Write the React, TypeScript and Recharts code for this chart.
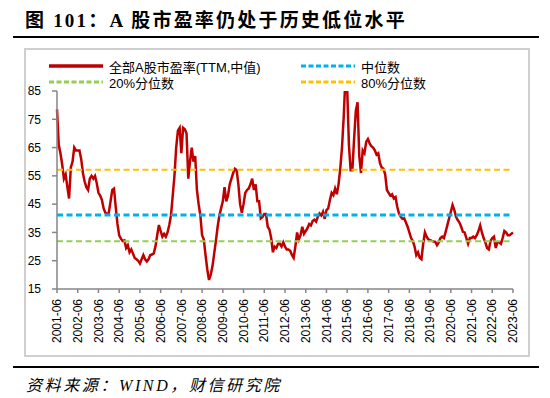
import React from 'react';
import { LineChart, Line, XAxis, YAxis } from 'recharts';

// 全部A股市盈率(TTM,中值)，月度，2001-06 起
const startYear = 2001;
const startMonthIndex = 5; // June
const peRatio: number[] = [
  78.5, 66, 63, 59, 54, 55.5, 51, 47, 58, 60, 65, 64,
  64, 64, 61, 56, 53, 51, 50, 54, 55, 54, 55, 52.5,
  49, 48, 46.5, 43.5, 42, 41.5, 42, 46, 50, 50.5, 44, 38,
  34, 32.8, 32, 32.2, 29.5, 30.5, 28, 29, 27.5, 26, 25.5, 25,
  24, 25.5, 27, 25.5, 24.7, 25.5, 27, 27.2, 27.6, 30, 34, 37.6,
  35.5, 33.5, 34.5, 33.5, 35, 37.6, 41, 48, 55, 65, 71, 72,
  63, 72, 71.5, 70, 54, 60, 65, 60, 62, 50, 45, 41,
  34, 32.5, 27, 22, 18.2, 20, 23, 27.5, 32, 37, 41, 43.5,
  46, 51, 46, 48, 52, 54, 56, 57.5, 57, 52, 45, 42,
  45, 49, 50, 50.5, 52, 54, 50, 52, 46, 46, 40, 40.5,
  41.5, 41.5, 37, 36, 33, 28, 30, 29.5, 31, 31, 30, 31.5,
  30, 29, 29, 28.5, 27, 26, 30, 35, 32.5, 34, 37, 34.5,
  35.5, 36.5, 38, 37.5, 39, 39.5, 38.8, 40.5, 41.7, 41, 42.3, 39.8,
  42.9, 43.5, 46.5, 49, 48.2, 50.5, 48.5, 52, 57.6, 65, 76, 90,
  86, 66, 57, 57, 68, 78, 81, 62, 56, 64, 63, 67,
  68, 66.5, 65.5, 65, 64, 62.5, 63, 59.5, 58, 57.5, 55.5, 50,
  49, 48, 48.5, 47, 47.5, 44, 41.7, 40.5, 39.8, 40, 38.5, 37,
  35, 33, 32, 30, 27, 28, 26, 25.5, 31, 35, 33.5, 32.5,
  32.3, 32, 31.8, 31.7, 30.5, 31.5, 33, 33.5, 33, 35.2, 37.6, 40,
  42.3, 44.7, 43, 40.5, 39.4, 38.5, 37, 35.2, 35, 33, 31, 33,
  33, 33.5, 33, 34, 35.5, 37.5, 35, 33, 31.5, 29.5, 29, 32,
  33, 33.5, 29.5, 31.5, 31.5, 31, 33, 35.5, 35, 34, 34, 34.5, 35,
];

const medianLevel = 41.2;
const pct20Level = 31.9;
const pct80Level = 57.2;

const xTicks = [
  '2001-06', '2002-06', '2003-06', '2004-06', '2005-06', '2006-06', '2007-06', '2008-06',
  '2009-06', '2010-06', '2011-06', '2012-06', '2013-06', '2014-06', '2015-06', '2016-06',
  '2017-06', '2018-06', '2019-06', '2020-06', '2021-06', '2022-06', '2023-06',
];
const yTicks = [15, 25, 35, 45, 55, 65, 75, 85];

const series = [
  { key: 'pe', name: '全部A股市盈率(TTM,中值)', color: '#C00000', width: 2.5, dash: undefined },
  { key: 'median', name: '中位数', color: '#00B0F0', width: 3, dash: '6 3.5' },
  { key: 'p20', name: '20%分位数', color: '#92D050', width: 2, dash: '6 3.5' },
  { key: 'p80', name: '80%分位数', color: '#FFC000', width: 2, dash: '6 3.5' },
];

function monthLabel(i: number) {
  const t = startMonthIndex + i;
  const y = startYear + Math.floor(t / 12);
  const m = (t % 12) + 1;
  return `${y}-${String(m).padStart(2, '0')}`;
}

const data = peRatio.map((v, i) => ({
  month: monthLabel(i),
  pe: v,
  median: medianLevel,
  p20: pct20Level,
  p80: pct80Level,
}));

const tickFont = '"Liberation Sans", Arial, sans-serif';

function MonthTick({ x, y, payload }: any) {
  return (
    <text
      x={x}
      y={y}
      transform={`rotate(-90, ${x}, ${y})`}
      textAnchor="end"
      dy="0.35em"
      fontSize={12}
      fontFamily={tickFont}
      fill="#000"
    >
      {payload.value}
    </text>
  );
}

function LegendSample({ color, dash }: { color: string; dash?: string }) {
  return (
    <svg width={54} height={8} style={{ display: 'block' }}>
      <line x1={0} y1={4} x2={54} y2={4} stroke={color} strokeWidth={dash ? 3 : 3.5} strokeDasharray={dash ? '5 2.5' : undefined} />
    </svg>
  );
}

function LegendItem({ s, left, top }: { s: (typeof series)[number]; left: number; top: number }) {
  return (
    <div style={{ position: 'absolute', left, top, display: 'flex', alignItems: 'center', height: 16 }}>
      <LegendSample color={s.color} dash={s.dash} />
      <span style={{ marginLeft: 6, fontSize: 13, fontFamily: '"Liberation Sans", "Noto Sans CJK SC", sans-serif', color: '#000', whiteSpace: 'nowrap' }}>
        {s.name}
      </span>
    </div>
  );
}

export default function App() {
  return (
    <div style={{ position: 'absolute', left: 0, top: 0, width: 550, height: 398, background: '#fff', overflow: 'hidden' }}>
      <div
        style={{
          position: 'absolute',
          left: 25,
          top: 8,
          fontSize: 19,
          fontWeight: 'bold',
          letterSpacing: 2.2,
          lineHeight: '26px',
          fontFamily: '"Liberation Serif", "Noto Sans CJK SC", serif',
          whiteSpace: 'nowrap',
        }}
      >
        图 101：A 股市盈率仍处于历史低位水平
      </div>
      <div style={{ position: 'absolute', left: 13, top: 36, width: 526, height: 2, background: '#000' }} />

      <LegendItem s={series[0]} left={49} top={58} />
      <LegendItem s={series[1]} left={301} top={58} />
      <LegendItem s={series[2]} left={49} top={74} />
      <LegendItem s={series[3]} left={301} top={74} />

      <div style={{ position: 'absolute', left: 0, top: 0 }}>
        <LineChart width={550} height={398} data={data} margin={{ top: 91, right: 37, bottom: 49, left: 17 }}>
          <XAxis
            dataKey="month"
            ticks={xTicks}
            interval={0}
            tick={<MonthTick />}
            tickSize={4}
            tickMargin={6}
            height={60}
            stroke="#868686"
            strokeWidth={1.5}
          />
          <YAxis
            type="number"
            domain={[15, 85]}
            ticks={yTicks}
            allowDataOverflow
            width={40}
            tickSize={5}
            tickMargin={11}
            stroke="#868686"
            strokeWidth={1.5}
            tick={{ fontSize: 12, fontFamily: tickFont, fill: '#000' }}
          />
          {series.map((s) => (
            <Line
              key={s.key}
              dataKey={s.key}
              name={s.name}
              type="linear"
              stroke={s.color}
              strokeWidth={s.width}
              strokeDasharray={s.dash}
              dot={false}
              activeDot={false}
              isAnimationActive={false}
            />
          ))}
        </LineChart>
      </div>

      {/* chart frame */}
      <div
        style={{
          position: 'absolute',
          left: 24,
          top: 48,
          width: 502,
          height: 305,
          border: '2px solid #CFCFCF',
          zIndex: 5,
          pointerEvents: 'none',
        }}
      />

      <div style={{ position: 'absolute', left: 13, top: 366, width: 526, height: 2, background: '#000' }} />
      <div
        style={{
          position: 'absolute',
          left: 26,
          top: 375,
          fontSize: 16,
          fontStyle: 'italic',
          letterSpacing: 2.6,
          lineHeight: '22px',
          fontFamily: '"Liberation Serif", "Noto Sans CJK SC", serif',
          whiteSpace: 'nowrap',
        }}
      >
        资料来源：WIND，财信研究院
      </div>
    </div>
  );
}
